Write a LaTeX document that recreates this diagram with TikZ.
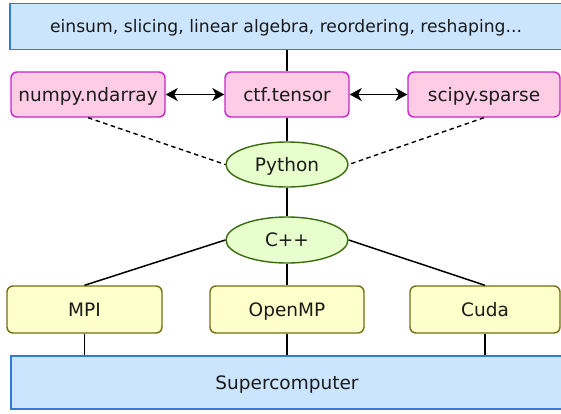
\documentclass[tikz,border=0pt]{standalone}
\usepackage{fontspec}
\setmainfont{DejaVu Sans}
\usetikzlibrary{arrows.meta,shapes.geometric}
\definecolor{bluefill}{HTML}{CCE5FF}
\definecolor{bluedraw}{HTML}{2F7BD6}
\definecolor{pinkfill}{HTML}{FFCCE6}
\definecolor{pinkdraw}{HTML}{CC22CC}
\definecolor{greenfill}{HTML}{E6FFCC}
\definecolor{greendraw}{HTML}{3A6B10}
\definecolor{yellowfill}{HTML}{FFFFCC}
\definecolor{yellowdraw}{HTML}{707010}
\definecolor{txt}{HTML}{1A1A1A}
\tikzset{
  every node/.style={text=txt, inner sep=0pt, text height=15pt, text depth=1.5pt, font=\fontsize{18.5}{22}\selectfont},
  layer/.style={draw=bluedraw, fill=bluefill, line width=1.5pt, rectangle},
  pybox/.style={draw=pinkdraw, fill=pinkfill, line width=1.4pt, rectangle, rounded corners=6pt},
  lang/.style={draw=greendraw, fill=greenfill, line width=1.4pt, ellipse},
  backend/.style={draw=yellowdraw, fill=yellowfill, line width=1.4pt, rectangle, rounded corners=6pt},
  conn/.style={draw=black, line width=1.5pt},
  dconn/.style={draw=black, line width=1.4pt, dash pattern=on 4.5pt off 3.5pt},
  biarrow/.style={conn, {Stealth[length=12pt,width=13pt,inset=3.5pt]}-{Stealth[length=12pt,width=13pt,inset=3.5pt]}},
}
\begin{document}
\begin{tikzpicture}[x=1pt,y=-1pt]
\useasboundingbox (0,0) rectangle (561,413);
\clip (0,0) rectangle (561,413);
\node[layer, minimum width=552pt, minimum height=46pt, font=\fontsize{17.2}{20}\selectfont, text height=14pt] (ops) at (286,26.5) {einsum, slicing, linear algebra, reordering, reshaping...};
\node[pybox, minimum width=154pt, minimum height=45pt] (np) at (88,94.5) {numpy.ndarray};
\node[pybox, minimum width=124pt, minimum height=45pt] (ctf) at (287,94.5) {ctf.tensor};
\node[pybox, minimum width=152pt, minimum height=45pt] (sp) at (484,94.5) {scipy.sparse};
\node[lang, minimum width=122pt, minimum height=45pt] (py) at (287,164.5) {Python};
\node[lang, minimum width=122pt, minimum height=46pt] (cpp) at (287,240) {C++};
\node[backend, minimum width=155pt, minimum height=47pt] (mpi) at (84.5,309.5) {MPI};
\node[backend, minimum width=154pt, minimum height=47pt] (omp) at (287,309.5) {OpenMP};
\node[backend, minimum width=150pt, minimum height=47pt] (cuda) at (485,309.5) {Cuda};
\node[layer, minimum width=552pt, minimum height=53pt] (sc) at (287,382.5) {Supercomputer};

\draw[conn] (ctf.north |- ops.south) -- (ctf.north);
\draw[biarrow] (np.east) -- (ctf.west);
\draw[biarrow] (ctf.east) -- (sp.west);
\draw[conn] (ctf.south) -- (py.north);
\draw[dconn] (np.south) -- (py.west);
\draw[dconn] (sp.south) -- (py.east);
\draw[conn] (py.south) -- (cpp.north);
\draw[conn] (cpp.west) -- (mpi.north);
\draw[conn] (cpp.south) -- (omp.north);
\draw[conn] (cpp.east) -- (cuda.north);
\draw[conn] (mpi.south) -- (mpi.south |- sc.north);
\draw[conn] (omp.south) -- (sc.north);
\draw[conn] (cuda.south) -- (cuda.south |- sc.north);
\end{tikzpicture}
\end{document}
